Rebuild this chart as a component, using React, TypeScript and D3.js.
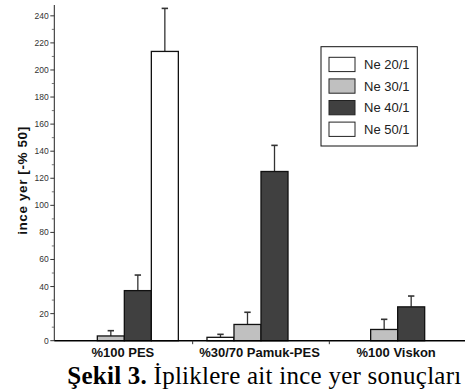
import React from "react";
import * as d3 from "d3";

const categories = ["%100 PES", "%30/70 Pamuk-PES", "%100 Viskon"];
const seriesNames = ["Ne 20/1", "Ne 30/1", "Ne 40/1", "Ne 50/1"];
const ne20 = [0, 2.5, 0];
const ne30 = [3.5, 12, 8.3];
const ne40 = [37, 125, 25];
const ne50 = [213.7, 0, 0];
const ne20Err = [0, 2.2, 0];
const ne30Err = [3.9, 9, 7.5];
const ne40Err = [11.5, 19.3, 8];
const ne50Err = [31.8, 0, 0];
const yTicks = [0, 20, 40, 60, 80, 100, 120, 140, 160, 180, 200, 220, 240];
const fills = ["#ffffff", "#c0c0c0", "#404040", "#ffffff"];

const values = [ne20, ne30, ne40, ne50];
const errors = [ne20Err, ne30Err, ne40Err, ne50Err];

const W = 465;
const H = 392;
const axisX = 54.3;
const axisY = 340.7;

export default function App() {
  const y = d3.scaleLinear().domain([0, 248]).range([axisY, 5]);
  const x0 = d3.scaleBand<string>().domain(categories).range([56, 466]).paddingInner(0).paddingOuter(0);
  const x1 = d3
    .scaleBand<string>()
    .domain(seriesNames)
    .range([0, x0.bandwidth()])
    .paddingInner(0)
    .paddingOuter(0.53);
  const minor = d3.range(10, 248, 20);
  const sans = "'Liberation Sans', Arial, sans-serif";

  return (
    <svg width={W} height={H} style={{ position: "absolute", left: 0, top: 0, background: "#fff" }}>
      {/* bars and error bars */}
      {seriesNames.map((s, si) =>
        categories.map((c, ci) => {
          const v = values[si][ci];
          if (v <= 0) return null;
          const bx = (x0(c) as number) + (x1(s) as number);
          const bw = x1.bandwidth();
          const top = y(v);
          const eTop = y(v + errors[si][ci]);
          const cx = bx + bw / 2;
          return (
            <g key={s + c}>
              {errors[si][ci] > 0 && (
                <g stroke="#333" strokeWidth={1.3}>
                  <line x1={cx} x2={cx} y1={top} y2={eTop} />
                  <line x1={cx - 3.2} x2={cx + 3.2} y1={eTop} y2={eTop} strokeWidth={1.6} />
                </g>
              )}
              <rect
                x={bx}
                y={top}
                width={bw}
                height={axisY - top}
                fill={fills[si]}
                stroke="#111"
                strokeWidth={1.3}
              />
            </g>
          );
        })
      )}

      {/* y axis */}
      <line x1={axisX} x2={axisX} y1={5} y2={axisY} stroke="#222" strokeWidth={1} />
      {yTicks.map((t) => (
        <g key={t}>
          <line x1={axisX - 4} x2={axisX} y1={y(t)} y2={y(t)} stroke="#333" strokeWidth={1} />
          <text
            x={axisX - 5.5}
            y={y(t)}
            dy="0.35em"
            textAnchor="end"
            fontFamily={sans}
            fontSize={8.5}
            fill="#333"
          >
            {t}
          </text>
        </g>
      ))}
      {minor.map((t) => (
        <line key={t} x1={axisX - 2.5} x2={axisX} y1={y(t)} y2={y(t)} stroke="#555" strokeWidth={0.8} />
      ))}
      <text
        transform={`translate(27,180.5) rotate(-90)`}
        textAnchor="middle"
        fontFamily={sans}
        fontSize={13.5}
        fontWeight="bold"
        letterSpacing={0.6}
        fill="#111"
      >
        ince yer [-% 50]
      </text>

      {/* x axis */}
      <line x1={axisX} x2={W} y1={axisY} y2={axisY} stroke="#000" strokeWidth={1.6} />
      {categories.slice(1).map((c) => (
        <line
          key={c}
          x1={x0(c) as number}
          x2={x0(c) as number}
          y1={axisY}
          y2={axisY + 3.5}
          stroke="#333"
          strokeWidth={1}
        />
      ))}
      {categories.map((c) => (
        <text
          key={c}
          x={(x0(c) as number) + x0.bandwidth() / 2 - 1.5}
          y={356.5}
          textAnchor="middle"
          fontFamily={sans}
          fontSize={13}
          fontWeight="bold"
          fill="#111"
        >
          {c}
        </text>
      ))}

      {/* legend */}
      <rect x={321} y={46.7} width={96.3} height={99.3} fill="#fff" stroke="#111" strokeWidth={1} />
      {seriesNames.map((s, i) => {
        const ry = 57.3 + i * 21.6;
        return (
          <g key={s}>
            <rect x={329} y={ry} width={26} height={14.3} fill={fills[i]} stroke="#222" strokeWidth={1} />
            <text x={364} y={ry + 7.2} dy="0.36em" fontFamily={sans} fontSize={13} fill="#222">
              {s}
            </text>
          </g>
        );
      })}

      {/* caption */}
      <text
        x={67.3}
        y={383.5}
        fontFamily="'Liberation Serif', 'Times New Roman', serif"
        fontSize={25}
        letterSpacing={0.25}
        fill="#000"
      >
        <tspan fontWeight="bold">Şekil 3.</tspan> İpliklere ait ince yer sonuçları
      </text>
    </svg>
  );
}
